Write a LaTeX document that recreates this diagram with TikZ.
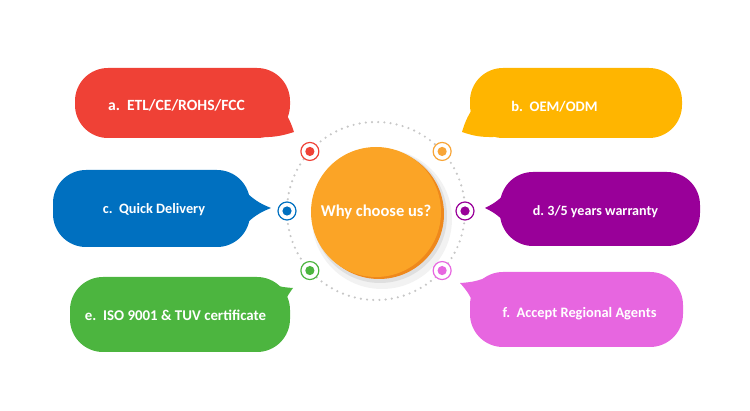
\documentclass[tikz,border=0pt]{standalone}
\usepackage{fontspec}
\setmainfont{Carlito}
\usepackage{tikz}
\usetikzlibrary{positioning,calc}
\frenchspacing
\definecolor{cRed}{RGB}{239,65,54}
\definecolor{cYellow}{RGB}{255,181,0}
\definecolor{cBlue}{RGB}{0,112,192}
\definecolor{cPurple}{RGB}{153,0,153}
\definecolor{cGreen}{RGB}{76,181,63}
\definecolor{cPink}{RGB}{231,102,224}
\definecolor{cCore}{RGB}{251,164,38}
\definecolor{cCoreEdge}{RGB}{238,136,28}
\definecolor{cDotOrange}{RGB}{248,165,55}
\tikzset{
  bubble/.style={rectangle, rounded corners=33pt, inner sep=0pt, draw=none},
  bubtext/.style={font=\bfseries\fontsize{#1}{18}\selectfont, text=white, inner sep=0pt},
  bubtext/.default=15,
  target/.style={circle, draw=#1, line width=1.2pt, fill=white, minimum size=18pt,
    inner sep=0pt, path picture={\fill[#1] (path picture bounding box.center) circle (4.6pt);}},
}

\begin{document}
\begin{tikzpicture}[
    x=1pt, y=-1pt,
    ringdots/.style={draw=black!22, line width=2.4pt, line cap=round,
      dash pattern=on 0pt off 6.2pt}
  ]
  \useasboundingbox (0,0) rectangle (750,411);

  % ============ Centre: dotted ring and disc ============
  \coordinate (ctr) at (376,211);
  \draw[ringdots] (ctr) circle (89);
  \fill[black, opacity=0.05] ($(ctr)+(6,8)$) circle (70);
  \fill[black, opacity=0.08] ($(ctr)+(4,5)$) circle (67);
  \fill[cCoreEdge] ($(ctr)+(3,3)$) circle (65);
  \node[circle, fill=cCore, minimum size=130pt, inner sep=0pt,
    font=\bfseries\fontsize{16.5}{19}\selectfont, text=white] (core) at ($(ctr)+(0,1)$) {Why choose us?};

  % ============ Targets on the ring ============
  \node[target=cRed]       (dotA) at ($(ctr)+(222:89)$) {};
  \node[target=cDotOrange] (dotB) at ($(ctr)+(318:89)$) {};
  \node[target=cBlue]      (dotC) at ($(ctr)+(180:89)$) {};
  \node[target=cPurple]    (dotD) at ($(ctr)+(0:89)$) {};
  \node[target=cGreen]     (dotE) at ($(ctr)+(138:89)$) {};
  \node[target=cPink]      (dotF) at ($(ctr)+(42:89)$) {};

  % ============ Bubble tails ============
  \fill[cRed]    (279,104) to[bend left=10] (294,132) to[bend left=10] (258,137) -- cycle;
  \fill[cYellow] (476,104) to[bend right=10] (462,132) to[bend right=10] (494,137) -- cycle;
  \fill[cBlue]   (244,190) to[bend right=12] (271,208) to[bend right=12] (244,226) -- cycle;
  \fill[cPurple] (508,190) to[bend left=12] (485,208) to[bend left=12] (508,226) -- cycle;
  \fill[cGreen]  (264,281) to[bend right=10] (293,288) to[bend right=10] (282,310) -- cycle;
  \fill[cPink]   (490,276) to[bend left=10] (460,283) to[bend left=10] (474,305) -- cycle;

  % ============ Bubble bodies ============
  \node[bubble, fill=cRed,    minimum width=215pt, minimum height=70pt] (bubA) at (182.5,103) {};
  \node[bubble, fill=cYellow, minimum width=212pt, minimum height=70pt] (bubB) at (576,103) {};
  \node[bubble, fill=cBlue,   minimum width=197pt, minimum height=77pt] (bubC) at (151.5,208.5) {};
  \node[bubble, fill=cPurple, minimum width=200pt, minimum height=74pt] (bubD) at (600,209) {};
  \node[bubble, fill=cGreen,  minimum width=220pt, minimum height=75pt] (bubE) at (180,314.5) {};
  \node[bubble, fill=cPink,   minimum width=213pt, minimum height=75pt] (bubF) at (576.5,309.5) {};

  % ============ Bubble texts ============
  \node[bubtext=15.6] (txtA) at (176.5,105) {a.\ \ ETL/CE/ROHS/FCC};
  \node[bubtext=14.6] (txtB) at (554.5,107) {b.\ \ OEM/ODM};
  \node[bubtext=14.3] (txtC) at (154,210) {c.\ \ Quick Delivery};
  \node[bubtext=14.1] (txtD) at (595.5,212) {d. 3/5 years warranty};
  \node[bubtext=14.9] (txtE) at (175.5,315) {e.\ \ ISO 9001 \& TUV certificate};
  \node[bubtext=14.4] (txtF) at (579.5,314) {f.\ \ Accept Regional Agents};

\end{tikzpicture}
\end{document}
